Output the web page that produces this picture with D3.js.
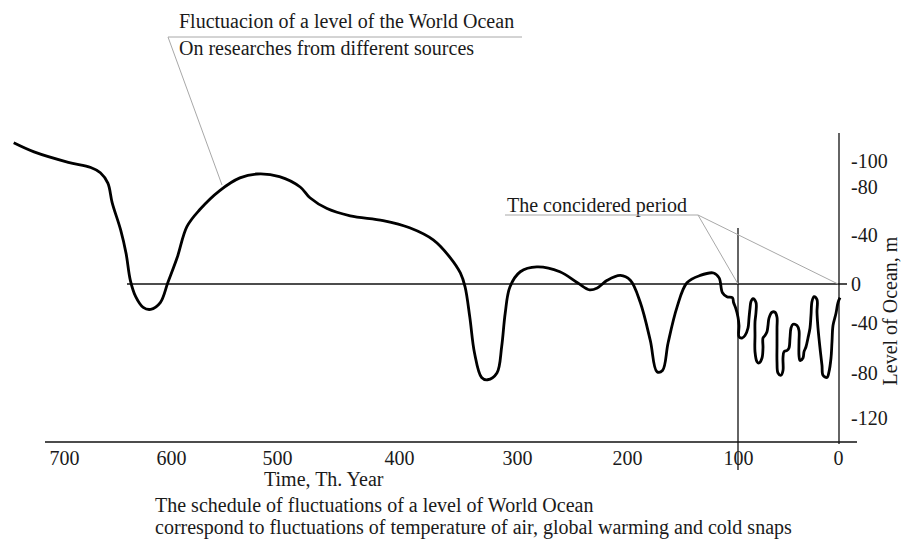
<!DOCTYPE html>
<html>
<head>
<meta charset="utf-8">
<script src="https://cdn.jsdelivr.net/npm/d3@7"></script>
<style>
  body { margin: 0; background: #fff; }
  text { font-family: "Liberation Serif", "Times New Roman", serif; fill: #1a1a1a; }
</style>
</head>
<body>
<svg class="chart" width="901" height="545"></svg>
<script>
// time, thousand years ago
var xTicks = [700, 600, 500, 400, 300, 200, 100, 0];
// level of ocean, m (up = positive)
var yTicks = [100, 80, 40, 0, -40, -80, -120];
var yTickLabels = ["-100", "-80", "-40", "0", "-40", "-80", "-120"];

// curve (years go back and forth inside the last 100 th. years)
var years = [747, 728, 696, 675, 666, 659, 655, 647, 642, 638, 633, 626, 619, 610, 603, 594, 585, 573, 554, 535,
    519, 498, 481, 473, 459, 440, 413, 391, 371, 357, 348, 344, 340, 336, 330, 325, 317, 313, 310, 306,
    297, 282, 261, 245, 234, 227, 218, 206, 197, 188, 179, 173, 168, 163, 155, 146, 134, 122, 117, 114,
    110, 105, 104, 102, 100, 99, 99, 96, 93, 90, 89, 88, 87, 85, 82, 82, 83, 83, 83, 81,
    79, 76, 75, 75, 73, 71, 70, 69, 66, 63, 61, 61, 61, 61, 60, 57, 55, 55, 54, 51,
    49, 48, 47, 45, 41, 39, 39, 39, 38, 35, 34, 32, 30, 28, 27, 26, 24, 21, 21, 20,
    18, 16, 15, 11, 9, 7, 6, 5, 2, 0, -2];
var levels = [114, 107, 99, 95, 91, 83, 67, 44, 25, 3, -13, -24, -26, -19, 1, 22, 47, 61, 77, 87,
    90, 88, 80, 71, 62, 56, 52, 46, 36, 22, 9, -3, -34, -64, -84, -86, -80, -59, -30, -3,
    10, 14, 10, 1, -6, -4, 3, 7, 3, -19, -54, -79, -78, -56, -24, 1, 7, 9, 5, -9,
    -13, -14, -19, -25, -34, -42, -51, -52, -50, -44, -35, -25, -18, -15, -19, -29, -39, -50, -63, -71,
    -72, -68, -60, -52, -50, -47, -42, -35, -29, -29, -34, -44, -58, -71, -80, -82, -78, -68, -63, -62,
    -60, -52, -44, -41, -42, -46, -55, -66, -70, -68, -63, -59, -52, -44, -32, -18, -13, -16, -29, -44,
    -60, -74, -82, -84, -79, -68, -55, -42, -30, -19, -14];

var svg = d3.select(".chart");

// the original drawing is hand made, so the scales are piecewise
var x = d3.scaleLinear()
    .domain(xTicks)
    .range([64, 171, 277, 399, 517, 627, 738, 838]);
var y = d3.scaleLinear()
    .domain([-120, -80, -40, 0, 40, 80, 100])
    .range([418, 373, 323, 284, 235, 187, 161]);

var axisY = 442, rightX = 839;

// bottom axis
svg.append("line")
    .attr("x1", 45).attr("x2", 857)
    .attr("y1", axisY).attr("y2", axisY)
    .attr("stroke", "#111").attr("stroke-width", 1.5);

var gx = svg.append("g")
    .attr("transform", "translate(0," + axisY + ")")
    .call(d3.axisBottom(x).tickValues(xTicks).tickSize(0).tickPadding(9).tickFormat(d3.format("d")));
gx.select(".domain").remove();
gx.selectAll("text").attr("font-size", "20px").attr("font-family", null);

// right axis
svg.append("line")
    .attr("x1", rightX).attr("x2", rightX)
    .attr("y1", 133).attr("y2", axisY + 2)
    .attr("stroke", "#111").attr("stroke-width", 1.3);

var gy = svg.append("g")
    .attr("transform", "translate(" + rightX + ",0)")
    .call(d3.axisRight(y).tickValues(yTicks).tickSize(0).tickPadding(12)
        .tickFormat(function(d, i) { return yTickLabels[i]; }));
gy.select(".domain").remove();
gy.selectAll("text").attr("font-size", "20px").attr("font-family", null);

svg.append("text")
    .attr("transform", "translate(897," + 311 + ") rotate(-90)")
    .attr("text-anchor", "middle")
    .attr("font-size", "20px")
    .text("Level of Ocean, m");

// zero level
svg.append("line")
    .attr("x1", 127).attr("x2", 847)
    .attr("y1", y(0)).attr("y2", y(0))
    .attr("stroke", "#111").attr("stroke-width", 1.3);

// 100 th. years marker
svg.append("line")
    .attr("x1", x(100)).attr("x2", x(100))
    .attr("y1", 228).attr("y2", 470)
    .attr("stroke", "#111").attr("stroke-width", 1.3);

// the curve
var pts = years.map(function(d, i) { return [d, levels[i]]; });
var line = d3.line()
    .x(function(d) { return x(d[0]); })
    .y(function(d) { return y(d[1]); })
    .curve(d3.curveCatmullRom.alpha(0.5));

svg.append("path")
    .datum(pts)
    .attr("d", line)
    .attr("fill", "none")
    .attr("stroke", "#000")
    .attr("stroke-width", 2.8)
    .attr("stroke-linejoin", "round");

// annotations
var grey = "#a8a8a8";
svg.append("text").attr("x", 179).attr("y", 28).attr("font-size", "20px")
    .text("Fluctuacion of a level of the World Ocean");
svg.append("text").attr("x", 179).attr("y", 55).attr("font-size", "20px")
    .text("On researches from different sources");
svg.append("line").attr("x1", 168).attr("x2", 522).attr("y1", 37).attr("y2", 37)
    .attr("stroke", grey);
svg.append("line").attr("x1", 168).attr("x2", 222).attr("y1", 37).attr("y2", 185)
    .attr("stroke", grey);

svg.append("text").attr("x", 507).attr("y", 212).attr("font-size", "20px")
    .text("The concidered period");
svg.append("line").attr("x1", 505).attr("x2", 698).attr("y1", 215).attr("y2", 215)
    .attr("stroke", grey);
svg.append("line").attr("x1", 698).attr("x2", x(100)).attr("y1", 215).attr("y2", y(0))
    .attr("stroke", grey);
svg.append("line").attr("x1", 698).attr("x2", x(0)).attr("y1", 215).attr("y2", y(0))
    .attr("stroke", grey);

svg.append("text").attr("x", 264).attr("y", 486).attr("font-size", "20px")
    .text("Time, Th. Year");
svg.append("text").attr("x", 155).attr("y", 512).attr("font-size", "20px")
    .text("The schedule of fluctuations of a level of World Ocean");
svg.append("text").attr("x", 155).attr("y", 534).attr("font-size", "20px")
    .text("correspond to fluctuations of temperature of air, global warming and cold snaps");
</script>
</body>
</html>
